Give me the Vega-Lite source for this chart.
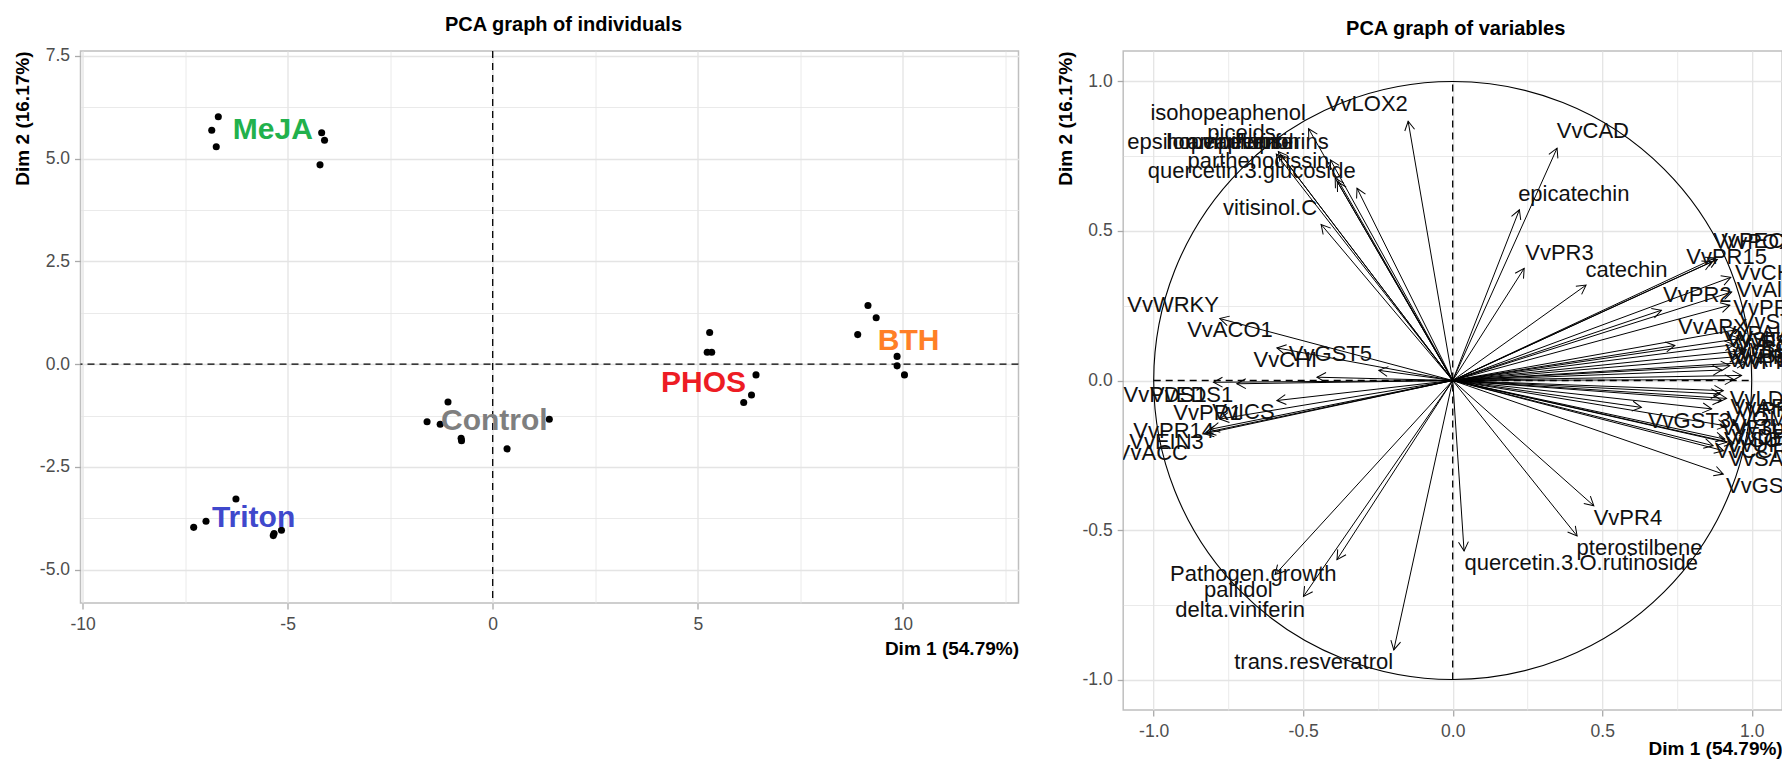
{
  "$schema": "https://vega.github.io/schema/vega-lite/v6.json",
  "background": "white",
  "padding": {"left": 12.5, "top": 14, "right": 0, "bottom": 0},
  "spacing": 34.7,
  "config": {
    "font": "Liberation Sans",
    "view": {"stroke": "#BFBFBF", "strokeWidth": 1.5},
    "axis": {
      "domain": false,
      "grid": true,
      "gridColor": "#E4E4E4",
      "tickColor": "#AAAAAA",
      "tickSize": 6,
      "tickWidth": 1.3,
      "labelColor": "#4D4D4D",
      "labelFont": "Liberation Sans",
      "labelFontSize": 17.5,
      "labelFlush": false,
      "labelOverlap": false,
      "titleFont": "Liberation Sans",
      "titleFontSize": 19,
      "titleFontWeight": "bold",
      "titleColor": "black",
      "titleAnchor": "end"
    },
    "axisX": {"labelPadding": 6, "titlePadding": 7},
    "axisY": {"labelPadding": 5, "titlePadding": 7},
    "title": {"font": "Liberation Sans", "fontSize": 20, "fontWeight": "bold", "color": "black", "anchor": "middle", "frame": "group", "offset": 12}
  },
  "datasets": {
    "individuals": [
      {"group": "MeJA", "dim1": -6.69, "dim2": 6.02},
      {"group": "MeJA", "dim1": -6.85, "dim2": 5.69},
      {"group": "MeJA", "dim1": -6.74, "dim2": 5.29},
      {"group": "MeJA", "dim1": -4.17, "dim2": 5.63},
      {"group": "MeJA", "dim1": -4.10, "dim2": 5.45},
      {"group": "MeJA", "dim1": -4.21, "dim2": 4.85},
      {"group": "Triton", "dim1": -6.26, "dim2": -3.28},
      {"group": "Triton", "dim1": -6.99, "dim2": -3.82},
      {"group": "Triton", "dim1": -7.29, "dim2": -3.97},
      {"group": "Triton", "dim1": -5.35, "dim2": -4.17},
      {"group": "Triton", "dim1": -5.15, "dim2": -4.04},
      {"group": "Triton", "dim1": -5.33, "dim2": -4.12},
      {"group": "Control", "dim1": -1.09, "dim2": -0.92},
      {"group": "Control", "dim1": -1.60, "dim2": -1.40},
      {"group": "Control", "dim1": -1.28, "dim2": -1.46},
      {"group": "Control", "dim1": -0.77, "dim2": -1.80},
      {"group": "Control", "dim1": -0.76, "dim2": -1.86},
      {"group": "Control", "dim1": 0.35, "dim2": -2.06},
      {"group": "Control", "dim1": 1.38, "dim2": -1.34},
      {"group": "PHOS", "dim1": 5.29, "dim2": 0.77},
      {"group": "PHOS", "dim1": 5.23, "dim2": 0.29},
      {"group": "PHOS", "dim1": 5.34, "dim2": 0.29},
      {"group": "PHOS", "dim1": 6.42, "dim2": -0.26},
      {"group": "PHOS", "dim1": 6.12, "dim2": -0.93},
      {"group": "PHOS", "dim1": 6.31, "dim2": -0.75},
      {"group": "BTH", "dim1": 9.15, "dim2": 1.43},
      {"group": "BTH", "dim1": 9.35, "dim2": 1.13},
      {"group": "BTH", "dim1": 8.90, "dim2": 0.72},
      {"group": "BTH", "dim1": 9.86, "dim2": 0.19},
      {"group": "BTH", "dim1": 9.86, "dim2": -0.04},
      {"group": "BTH", "dim1": 10.04, "dim2": -0.26}
    ],
    "groups": [
      {"group": "MeJA", "dim1": -5.36, "dim2": 5.71},
      {"group": "Triton", "dim1": -5.83, "dim2": -3.73},
      {"group": "Control", "dim1": 0.04, "dim2": -1.39},
      {"group": "PHOS", "dim1": 5.14, "dim2": -0.45},
      {"group": "BTH", "dim1": 10.14, "dim2": 0.57}
    ],
    "variables": [
      {"var": "isohopeaphenol", "x": -0.482, "y": 0.842, "lx": -0.751, "ly": 0.895},
      {"var": "piceids", "x": -0.409, "y": 0.738, "lx": -0.706, "ly": 0.828},
      {"var": "epsilon.viniferin", "x": -0.583, "y": 0.766, "lx": -0.835, "ly": 0.797},
      {"var": "hopeaphenol", "x": -0.575, "y": 0.755, "lx": -0.745, "ly": 0.797},
      {"var": "ampelopsin", "x": -0.393, "y": 0.677, "lx": -0.70, "ly": 0.797},
      {"var": "viniferins", "x": -0.386, "y": 0.665, "lx": -0.56, "ly": 0.797},
      {"var": "parthenocissin", "x": -0.59, "y": 0.757, "lx": -0.65, "ly": 0.733},
      {"var": "quercetin.3.glucoside", "x": -0.32, "y": 0.643, "lx": -0.672, "ly": 0.699},
      {"var": "vitisinol.C", "x": -0.44, "y": 0.522, "lx": -0.611, "ly": 0.576},
      {"var": "VvLOX2", "x": -0.149, "y": 0.867, "lx": -0.287, "ly": 0.925},
      {"var": "VvCAD", "x": 0.349, "y": 0.777, "lx": 0.469, "ly": 0.833},
      {"var": "epicatechin", "x": 0.223, "y": 0.571, "lx": 0.405, "ly": 0.623},
      {"var": "VvPR3", "x": 0.239, "y": 0.375, "lx": 0.357, "ly": 0.425},
      {"var": "catechin", "x": 0.446, "y": 0.319, "lx": 0.581, "ly": 0.369},
      {"var": "VvWRKY", "x": -0.779, "y": 0.207, "lx": -0.935, "ly": 0.252},
      {"var": "VvACO1", "x": -0.588, "y": 0.109, "lx": -0.745, "ly": 0.168},
      {"var": "VvGST5", "x": -0.247, "y": 0.034, "lx": -0.409, "ly": 0.089},
      {"var": "VvCHI", "x": -0.454, "y": 0.011, "lx": -0.56, "ly": 0.067},
      {"var": "VvEDS1", "x": -0.80, "y": -0.006, "lx": -0.873, "ly": -0.05},
      {"var": "VvPDS1", "x": -0.722, "y": -0.011, "lx": -0.962, "ly": -0.05},
      {"var": "VvICS", "x": -0.588, "y": -0.067, "lx": -0.70, "ly": -0.106},
      {"var": "VvPR1", "x": -0.779, "y": -0.129, "lx": -0.82, "ly": -0.11},
      {"var": "VvPR14", "x": -0.823, "y": -0.173, "lx": -0.933, "ly": -0.168},
      {"var": "VvEIN3", "x": -0.81, "y": -0.163, "lx": -0.957, "ly": -0.207},
      {"var": "VvACC", "x": -0.83, "y": -0.178, "lx": -1.006, "ly": -0.243},
      {"var": "Pathogen.growth", "x": -0.594, "y": -0.649, "lx": -0.667, "ly": -0.646},
      {"var": "pallidol", "x": -0.499, "y": -0.722, "lx": -0.717, "ly": -0.699},
      {"var": "delta.viniferin", "x": -0.387, "y": -0.599, "lx": -0.711, "ly": -0.766},
      {"var": "trans.resveratrol", "x": -0.197, "y": -0.901, "lx": -0.465, "ly": -0.943},
      {"var": "quercetin.3.O.rutinoside", "x": 0.038, "y": -0.57, "lx": 0.43, "ly": -0.61},
      {"var": "pterostilbene", "x": 0.416, "y": -0.52, "lx": 0.625, "ly": -0.559},
      {"var": "VvPR4", "x": 0.472, "y": -0.419, "lx": 0.586, "ly": -0.459},
      {"var": "VvPR15", "x": 0.866, "y": 0.397, "lx": 0.916, "ly": 0.414},
      {"var": "VvPEC", "x": 0.885, "y": 0.405, "lx": 0.99, "ly": 0.466},
      {"var": "VvPOX", "x": 0.878, "y": 0.41, "lx": 1.02, "ly": 0.462},
      {"var": "VvCHS", "x": 0.93, "y": 0.345, "lx": 1.065, "ly": 0.358},
      {"var": "VvPR2", "x": 0.698, "y": 0.235, "lx": 0.818, "ly": 0.285},
      {"var": "VvAlliinase", "x": 0.933, "y": 0.296, "lx": 1.13, "ly": 0.302},
      {"var": "VvPR5", "x": 0.927, "y": 0.252, "lx": 1.053, "ly": 0.243},
      {"var": "VvAPX", "x": 0.743, "y": 0.117, "lx": 0.87, "ly": 0.179},
      {"var": "VvSTS1", "x": 0.95, "y": 0.17, "lx": 1.095, "ly": 0.197},
      {"var": "VvSTS2", "x": 0.96, "y": 0.14, "lx": 1.05, "ly": 0.135},
      {"var": "VvPAL1", "x": 0.94, "y": 0.12, "lx": 1.03, "ly": 0.155},
      {"var": "VvBGL", "x": 0.97, "y": 0.10, "lx": 1.06, "ly": 0.11},
      {"var": "VvCHIT", "x": 0.955, "y": 0.08, "lx": 1.04, "ly": 0.095},
      {"var": "VvPR6", "x": 0.98, "y": 0.06, "lx": 1.05, "ly": 0.08},
      {"var": "VvPR10", "x": 0.927, "y": 0.05, "lx": 1.08, "ly": 0.061},
      {"var": "VvF3H", "x": 0.966, "y": 0.017, "lx": 1.06, "ly": 0.125},
      {"var": "VvLAR", "x": 0.94, "y": 0.003, "lx": 1.07, "ly": 0.14},
      {"var": "VvANR", "x": 0.90, "y": 0.035, "lx": 1.04, "ly": 0.07},
      {"var": "VvLDOX", "x": 0.894, "y": -0.045, "lx": 1.07, "ly": -0.062},
      {"var": "VvARR", "x": 0.905, "y": -0.034, "lx": 1.05, "ly": -0.09},
      {"var": "VvGST3", "x": 0.631, "y": -0.09, "lx": 0.792, "ly": -0.134},
      {"var": "VvOMT", "x": 0.866, "y": -0.095, "lx": 1.04, "ly": -0.13},
      {"var": "VvF3pH", "x": 0.916, "y": -0.152, "lx": 1.03, "ly": -0.16},
      {"var": "VvDFR", "x": 0.91, "y": -0.196, "lx": 1.05, "ly": -0.19},
      {"var": "VvUFGT", "x": 0.94, "y": -0.21, "lx": 1.06, "ly": -0.215},
      {"var": "VvSAMT", "x": 0.906, "y": -0.235, "lx": 1.067, "ly": -0.263},
      {"var": "VvCCR", "x": 0.871, "y": -0.218, "lx": 1.0, "ly": -0.235},
      {"var": "VvGST4", "x": 0.905, "y": -0.313, "lx": 1.053, "ly": -0.352},
      {"var": "VvPR9", "x": 0.916, "y": -0.06, "lx": 1.06, "ly": -0.10},
      {"var": "VvTL", "x": 0.90, "y": -0.067, "lx": 1.02, "ly": -0.155},
      {"var": "VvSOD", "x": 0.916, "y": -0.207, "lx": 1.03, "ly": -0.2}
    ]
  },
  "hconcat": [
    {
      "width": 938,
      "height": 552,
      "title": {"text": "PCA graph of individuals", "dx": 14},
      "layer": [
        {
          "data": {"values": [{}]},
          "mark": {"type": "rule", "strokeDash": [7, 5], "strokeWidth": 1.3, "color": "black"},
          "encoding": {"x": {"datum": 0, "type": "quantitative"}}
        },
        {
          "data": {"values": [{}]},
          "mark": {"type": "rule", "strokeDash": [7, 5], "strokeWidth": 1.3, "color": "black"},
          "encoding": {"y": {"datum": 0, "type": "quantitative"}}
        },
        {
          "data": {"name": "individuals"},
          "mark": {"type": "circle", "size": 50, "color": "black", "opacity": 1},
          "encoding": {
            "x": {
              "field": "dim1", "type": "quantitative",
              "scale": {"domain": [-10.05, 12.82], "nice": false, "zero": false},
              "axis": {
                "title": "Dim 1 (54.79%)",
                "values": [-10, -7.5, -5, -2.5, 0, 2.5, 5, 7.5, 10, 12.5],
                "labelExpr": "datum.value % 5 == 0 ? (datum.value < 0 ? '-' + format(-datum.value, 'd') : format(datum.value, 'd')) : ''",
                "tickOpacity": {"condition": {"test": "datum.value % 5 != 0", "value": 0}, "value": 1},
                "gridWidth": {"condition": {"test": "datum.value % 5 != 0", "value": 0.8}, "value": 1.3}
              }
            },
            "y": {
              "field": "dim2", "type": "quantitative",
              "scale": {"domain": [-5.81, 7.62], "nice": false, "zero": false},
              "axis": {
                "title": "Dim 2 (16.17%)",
                "values": [-5, -3.75, -2.5, -1.25, 0, 1.25, 2.5, 3.75, 5, 6.25, 7.5],
                "labelExpr": "datum.value % 2.5 == 0 ? (datum.value < 0 ? '-' + format(-datum.value, '.1f') : format(datum.value, '.1f')) : ''",
                "tickOpacity": {"condition": {"test": "datum.value % 2.5 != 0", "value": 0}, "value": 1},
                "gridWidth": {"condition": {"test": "datum.value % 2.5 != 0", "value": 0.8}, "value": 1.3}
              }
            }
          }
        },
        {
          "data": {"name": "groups"},
          "mark": {"type": "text", "font": "Liberation Sans", "fontSize": 30, "fontWeight": "bold", "baseline": "middle", "align": "center"},
          "encoding": {
            "x": {"field": "dim1", "type": "quantitative"},
            "y": {"field": "dim2", "type": "quantitative"},
            "text": {"field": "group"},
            "color": {
              "field": "group", "type": "nominal",
              "scale": {"domain": ["MeJA", "Triton", "Control", "PHOS", "BTH"], "range": ["#22B14C", "#3F48CC", "#7F7F7F", "#ED1C24", "#FF7F27"]},
              "legend": null
            }
          }
        }
      ]
    },
    {
      "width": 659,
      "height": 659,
      "title": {"text": "PCA graph of variables", "dx": 3},
      "data": {"name": "variables"},
      "layer": [
        {
          "data": {"values": [{}]},
          "mark": {"type": "rule", "strokeDash": [7, 5], "strokeWidth": 1.3, "color": "black"},
          "encoding": {
            "x": {"datum": 0, "type": "quantitative"},
            "y": {"datum": -1, "type": "quantitative"},
            "y2": {"datum": 1}
          }
        },
        {
          "data": {"values": [{}]},
          "mark": {"type": "rule", "strokeDash": [7, 5], "strokeWidth": 1.3, "color": "black"},
          "encoding": {
            "y": {"datum": 0, "type": "quantitative"},
            "x": {"datum": -1, "type": "quantitative"},
            "x2": {"datum": 1}
          }
        },
        {
          "data": {"values": [{}]},
          "mark": {"type": "point", "shape": "circle", "size": 357604, "filled": false, "stroke": "black", "strokeWidth": 1.1, "opacity": 1},
          "encoding": {
            "x": {"datum": 0, "type": "quantitative"},
            "y": {"datum": 0, "type": "quantitative"}
          }
        },
        {
          "mark": {"type": "rule", "color": "black", "strokeWidth": 1},
          "encoding": {
            "x": {
              "field": "x", "type": "quantitative",
              "scale": {"domain": [-1.102, 1.102], "nice": false, "zero": false},
              "axis": {
                "title": "Dim 1 (54.79%)",
                "titlePadding": 0,
                "values": [-1, -0.75, -0.5, -0.25, 0, 0.25, 0.5, 0.75, 1],
                "labelExpr": "datum.value % 0.5 == 0 ? (datum.value < 0 ? '-' + format(-datum.value, '.1f') : format(datum.value, '.1f')) : ''",
                "tickOpacity": {"condition": {"test": "datum.value % 0.5 != 0", "value": 0}, "value": 1},
                "gridWidth": {"condition": {"test": "datum.value % 0.5 != 0", "value": 0.8}, "value": 1.3}
              }
            },
            "x2": {"datum": 0},
            "y": {
              "field": "y", "type": "quantitative",
              "scale": {"domain": [-1.102, 1.102], "nice": false, "zero": false},
              "axis": {
                "title": "Dim 2 (16.17%)",
                "values": [-1, -0.75, -0.5, -0.25, 0, 0.25, 0.5, 0.75, 1],
                "labelExpr": "datum.value % 0.5 == 0 ? (datum.value < 0 ? '-' + format(-datum.value, '.1f') : format(datum.value, '.1f')) : ''",
                "tickOpacity": {"condition": {"test": "datum.value % 0.5 != 0", "value": 0}, "value": 1},
                "gridWidth": {"condition": {"test": "datum.value % 0.5 != 0", "value": 0.8}, "value": 1.3}
              }
            },
            "y2": {"datum": 0}
          }
        },
        {
          "mark": {"type": "point", "shape": "M -0.55 1 L 0 0 L 0.55 1", "size": 324, "filled": false, "stroke": "black", "strokeWidth": 1, "opacity": 1, "angle": {"expr": "atan2(datum.x, datum.y) * 180 / PI"}},
          "encoding": {
            "x": {"field": "x", "type": "quantitative"},
            "y": {"field": "y", "type": "quantitative"}
          }
        },
        {
          "mark": {"type": "text", "font": "Liberation Sans", "fontSize": 22, "color": "#111111", "baseline": "middle", "align": "center", "clip": true},
          "encoding": {
            "x": {"field": "lx", "type": "quantitative"},
            "y": {"field": "ly", "type": "quantitative"},
            "text": {"field": "var"}
          }
        }
      ]
    }
  ]
}
